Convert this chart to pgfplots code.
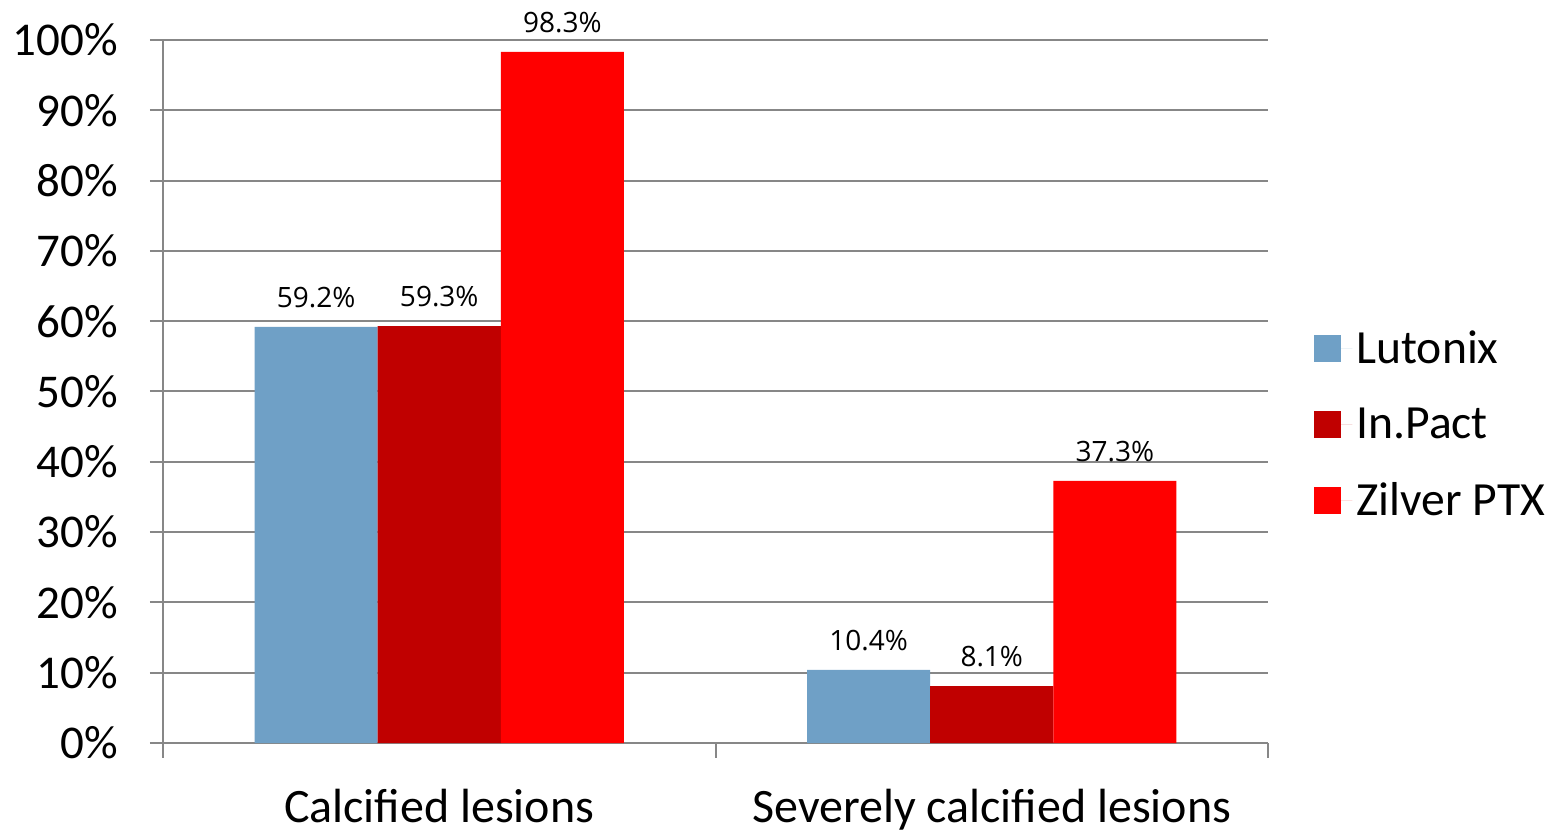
\documentclass[border=0pt]{standalone}
\usepackage{fontspec}
\setmainfont{Carlito}
\newfontfamily\labfont{Open Sans}
\usepackage{pgfplots}
\pgfplotsset{compat=1.18}

\definecolor{lutonix}{HTML}{6FA0C6}
\definecolor{inpact}{HTML}{C00000}
\definecolor{zilver}{HTML}{FF0000}
\definecolor{gridgray}{HTML}{878787}

\begin{document}
\begin{tikzpicture}
\begin{axis}[
  name=ax,
  scale only axis,
  width=552.5pt, height=351.5pt,
  ybar=0pt,
  bar width=0.2228,
  xmin=-0.5, xmax=1.5,
  ymin=0, ymax=100,
  xtick={0,1},
  xticklabels={Calcified lesions, Severely calcified lesions},
  minor xtick={-0.5,0.5,1.5},
  ytick={0,10,...,100},
  yticklabel={\pgfmathprintnumber{\tick}\%},
  /pgf/number format/assume math mode=true,
  axis x line*=bottom,
  axis y line*=left,
  axis line style={gridgray, line width=1pt, -},
  ymajorgrids,
  grid style={gridgray, line width=1pt},
  tick align=outside,
  tick pos=left,
  major tick style={gridgray, line width=1pt},
  minor tick style={gridgray, line width=1pt},
  major x tick style={draw=none},
  major tick length=6.5pt,
  minor tick length=7.5pt,
  tick label style={font=\fontsize{23.5pt}{28pt}\selectfont},
  xticklabel style={font=\fontsize{24pt}{29pt}\selectfont, yshift=-13pt},
  yticklabel style={xshift=-12.5pt},
  nodes near coords={\pgfmathprintnumber[fixed,fixed zerofill,precision=1]{\pgfplotspointmeta}\%},
  nodes near coords style={font=\labfont\fontsize{14pt}{17pt}\selectfont, anchor=south, yshift=6pt, black},
  legend style={draw=none, inner sep=0pt, outer sep=0pt, at={(1.042,0.453)}, anchor=west,
    font=\fontsize{23.8pt}{28pt}\selectfont, row sep=16.5pt},
  legend cell align=left,
  legend image code/.code={\fill[#1] (0pt,-6.75pt) rectangle (13.5pt,6.75pt);
    \path (0pt,0pt) -- (19pt,0pt);},
]
\addplot[fill=lutonix, draw=none] coordinates {(0,59.2) (1,10.4)};
\addplot[fill=inpact, draw=none] coordinates {(0,59.3) (1,8.1)};
\addplot[fill=zilver, draw=none] coordinates {(0,98.3) (1,37.3)};
\legend{Lutonix, In.Pact, Zilver PTX}
\end{axis}
\path ([shift={(-81.5pt,-42pt)}]ax.south west) rectangle ([shift={(693.5pt,371.5pt)}]ax.south west);
\end{tikzpicture}
\end{document}
